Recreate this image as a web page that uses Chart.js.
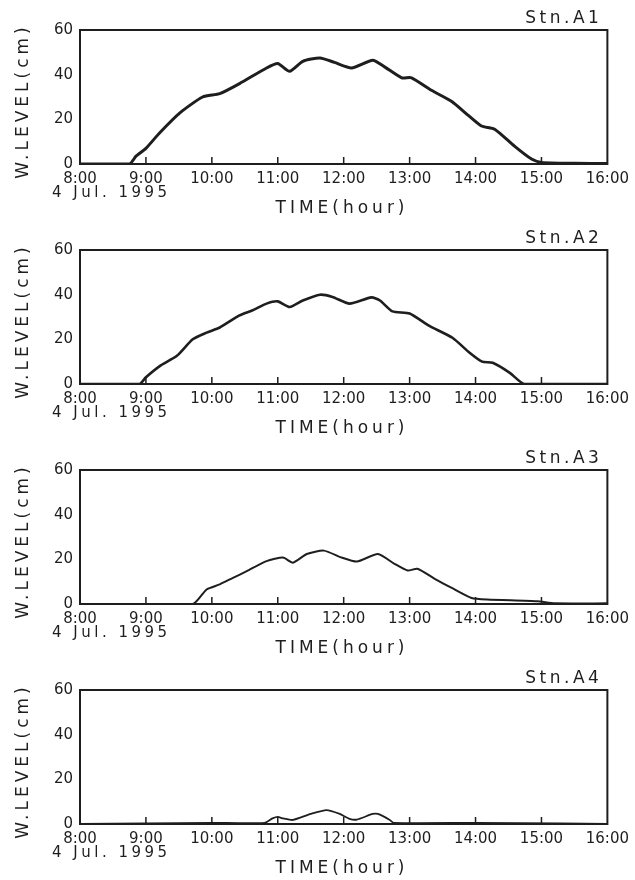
<!DOCTYPE html>
<html lang="en">
<head>
    <meta charset="UTF-8">
    <title>W.LEVEL - Stn.A1-A4</title>
    <script src="https://cdn.jsdelivr.net/npm/chart.js"></script>
    <style>
        html, body {
            margin: 0;
            padding: 0;
            background: #fff;
        }

        .panel {
            position: absolute;
            left: 0;
            width: 635px;
            height: 220px;
        }
    </style>
</head>
<body>
<div class="panel" style="top:0"><canvas id="chartA1" width="635" height="220"></canvas></div>
<div class="panel" style="top:220px"><canvas id="chartA2" width="635" height="220"></canvas></div>
<div class="panel" style="top:440px"><canvas id="chartA3" width="635" height="220"></canvas></div>
<div class="panel" style="top:660px"><canvas id="chartA4" width="635" height="220"></canvas></div>
<script>
    // time in hours (8.5 = 8:30), water level in cm
    const hourTicks = [8, 9, 10, 11, 12, 13, 14, 15, 16];
    const levelTicks = [0, 20, 40, 60];

    const a1Time = [8, 8.75, 8.85, 9.0, 9.21, 9.52, 9.86, 10.12, 10.42, 10.83, 11.0, 11.18, 11.38, 11.64,
        11.86, 12.12, 12.44, 12.62, 12.88, 13.03, 13.33, 13.64, 13.88, 14.09, 14.29, 14.59, 14.85, 15.0, 15.5, 16];
    const a1Level = [0, 0, 3.5, 7, 14, 23, 30, 31.5, 36, 43, 45, 41.5, 46, 47.5,
        45.5, 43, 46.5, 43.5, 38.6, 38.6, 33, 28, 22, 17, 15.6, 8, 2.2, 0.7, 0.3, 0.2];

    const a2Time = [8, 8.9, 9.0, 9.21, 9.47, 9.71, 9.92, 10.12, 10.42, 10.62, 10.83, 11.0, 11.18, 11.38,
        11.64, 11.83, 12.09, 12.42, 12.55, 12.74, 13.0, 13.3, 13.65, 13.91, 14.1, 14.26, 14.52, 14.74, 16];
    const a2Level = [0, 0, 3, 8, 12.6, 20, 23, 25.3, 30.7, 33, 36, 37, 34.5, 37.4,
        40, 39, 36, 38.8, 37.4, 32.5, 31.6, 26, 20.7, 14, 10, 9.5, 5, 0, 0];

    const a3Time = [8, 9.71, 9.92, 10.12, 10.32, 10.53, 10.83, 11.08, 11.23, 11.44, 11.7, 11.97, 12.2,
        12.52, 12.77, 12.97, 13.12, 13.38, 13.64, 13.94, 14.18, 14.94, 15.2, 16];
    const a3Level = [0, 0, 6.5, 8.8, 11.7, 14.7, 19.2, 20.8, 18.5, 22.4, 23.9, 20.8, 19,
        22.4, 18, 15, 15.8, 11.3, 7.2, 2.7, 2.0, 1.2, 0.3, 0.3];

    const a4Time = [8, 9, 10, 10.8, 10.92, 11.0, 11.08, 11.23, 11.5, 11.74, 11.94, 12.09, 12.2,
        12.44, 12.52, 12.7, 12.76, 14, 15.3, 16];
    const a4Level = [0, 0.3, 0.5, 0.5, 2.5, 3.2, 2.5, 1.8, 4.5, 6.2, 4.5, 2.3, 2,
        4.5, 4.5, 1.8, 0.5, 0.5, 0.3, 0];

    const ink = '#1e1e1e';
    const font = 'DejaVu Sans';

    function spacedText(ctx, text, x, y, align, spacing) {
        ctx.save();
        ctx.letterSpacing = spacing + 'px';
        ctx.textAlign = align;
        ctx.fillText(text, x, y);
        ctx.restore();
    }

    // frame, inward hour ticks and the extra labels round the plot
    const framePlugin = {
        id: 'frame',
        afterDraw(chart, args, opts) {
            const ctx = chart.ctx;
            const area = chart.chartArea;
            const xs = chart.scales.x;
            ctx.save();
            ctx.strokeStyle = ink;
            ctx.lineWidth = 2;
            ctx.strokeRect(area.left, area.top, area.right - area.left, area.bottom - area.top);

            ctx.lineWidth = 1.5;
            ctx.beginPath();
            hourTicks.slice(1, -1).forEach(h => {
                const px = xs.getPixelForValue(h);
                ctx.moveTo(px, area.bottom);
                ctx.lineTo(px, area.bottom - 7);
            });
            ctx.stroke();

            ctx.fillStyle = ink;
            ctx.textBaseline = 'middle';
            ctx.font = '17px "' + font + '"';
            spacedText(ctx, opts.station, area.right - 5, 19, 'right', 3.5);
            spacedText(ctx, 'TIME(hour)', area.left + 262, 209, 'center', 4);
            ctx.font = '15px "' + font + '"';
            spacedText(ctx, '4 Jul. 1995', 52, 193, 'left', 3.5);

            ctx.font = '17px "' + font + '"';
            ctx.translate(24, 101);
            ctx.rotate(-Math.PI / 2);
            spacedText(ctx, 'W.LEVEL(cm)', 0, 0, 'center', 4);
            ctx.restore();
        }
    };

    function drawStation(canvasId, station, times, levels, lineWidth) {
        const ctx = document.getElementById(canvasId).getContext('2d');
        new Chart(ctx, {
            type: 'line',
            data: {
                datasets: [{
                    data: times.map((t, i) => ({x: t, y: levels[i]})),
                    borderColor: ink,
                    borderWidth: lineWidth,
                    pointRadius: 0,
                    tension: 0.2,
                    fill: false
                }]
            },
            options: {
                responsive: false,
                animation: false,
                events: [],
                layout: {padding: {top: 30, right: 27, left: 0, bottom: 0}},
                plugins: {
                    legend: {display: false},
                    tooltip: {enabled: false},
                    frame: {station: station}
                },
                scales: {
                    x: {
                        type: 'linear',
                        min: 8,
                        max: 16,
                        afterFit: s => { s.height = 56; },
                        afterBuildTicks: s => { s.ticks = hourTicks.map(v => ({value: v})); },
                        grid: {display: false, drawTicks: false},
                        border: {display: false},
                        ticks: {
                            padding: 6,
                            maxRotation: 0,
                            color: ink,
                            font: {family: font, size: 15},
                            callback: v => v + ':00'
                        }
                    },
                    y: {
                        min: 0,
                        max: 60,
                        afterFit: s => { s.width = 80; },
                        afterBuildTicks: s => { s.ticks = levelTicks.map(v => ({value: v})); },
                        grid: {display: false, drawTicks: false},
                        border: {display: false},
                        ticks: {
                            padding: 7,
                            color: ink,
                            font: {family: font, size: 15}
                        }
                    }
                }
            },
            plugins: [framePlugin]
        });
    }

    drawStation('chartA1', 'Stn.A1', a1Time, a1Level, 3);
    drawStation('chartA2', 'Stn.A2', a2Time, a2Level, 2.6);
    drawStation('chartA3', 'Stn.A3', a3Time, a3Level, 2);
    drawStation('chartA4', 'Stn.A4', a4Time, a4Level, 1.8);
</script>
</body>
</html>
